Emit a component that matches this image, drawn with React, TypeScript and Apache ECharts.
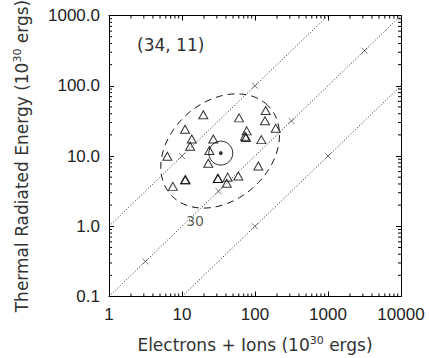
import React, { useEffect, useRef } from 'react';
import * as echarts from 'echarts';

// Axis ranges and tick labels
const xMin = 1;
const xMax = 10000;
const yMin = 0.1;
const yMax = 1000;
const xDecades = [1, 10, 100, 1000];
const yDecades = [0.1, 1, 10, 100];
const minorMultipliers = [2, 3, 4, 5, 6, 7, 8, 9];

// Triangles: flare energies (Electrons + Ions, Thermal Radiated)
const triX = [19.6, 140, 60.4, 137, 11.0, 192, 76.9, 72.9, 75.3, 13.6, 26.8, 122, 12.9, 23.7, 6.3, 22.9, 111, 11.2, 11.0, 30.8, 31.3, 42.3, 59.1, 41.0, 7.5];
const triY = [38.7, 44.4, 34.9, 31.7, 24.0, 24.8, 22.8, 19.1, 18.4, 17.5, 17.5, 17.1, 13.8, 12.0, 9.9, 7.9, 7.2, 4.6, 4.6, 4.8, 4.8, 5.0, 5.2, 4.1, 3.7];

// Mean point
const meanX = 34;
const meanY = 11;

// Reference lines (ratio lines) as endpoints
const lineA = [[1, 1], [1000, 1000]];
const lineB = [[1, 0.1], [10000, 1000]];
const lineC = [[10, 0.1], [10000, 100]];

// Small cross marks on the ratio lines
const crossX = [10, 100, 3.16, 31.6, 316, 3162, 100, 1000];
const crossY = [10, 100, 0.316, 3.16, 31.6, 316, 1, 10];

// Ellipse (in log10 space): center, semi-axes (decades), tilt angle (deg)
const ellCenter = [33.3, 11.8];
const ellSemiMajor = 0.92;
const ellSemiMinor = 0.69;
const ellAngle = 45;

// Annotation
const ellLabel = '30';
const ellLabelPos = [15.1, 1.2];
const meanText = '(34, 11)';

function ellipsePoints(): number[][] {
  const pts: number[][] = [];
  const cx = Math.log10(ellCenter[0]);
  const cy = Math.log10(ellCenter[1]);
  const th = (ellAngle * Math.PI) / 180;
  for (let i = 0; i <= 120; i++) {
    const t = (i / 120) * 2 * Math.PI;
    const u = ellSemiMajor * Math.cos(t);
    const v = ellSemiMinor * Math.sin(t);
    const lx = cx + u * Math.cos(th) - v * Math.sin(th);
    const ly = cy + u * Math.sin(th) + v * Math.cos(th);
    pts.push([Math.pow(10, lx), Math.pow(10, ly)]);
  }
  return pts;
}

const FONT = 'DejaVu Sans';
const TICKFONT = 'Liberation Sans';
const INK = '#222';
const TITLE_INK = '#333';

export default function App() {
  const ref = useRef<HTMLDivElement>(null);
  useEffect(() => {
    if (!ref.current) return;
    const chart = echarts.init(ref.current, undefined, { renderer: 'svg' });

    const xMinor: number[][] = [];
    xDecades.forEach((d) => minorMultipliers.forEach((m) => xMinor.push([d * m, yMin])));
    const yMinor: number[][] = [];
    yDecades.forEach((d) => minorMultipliers.forEach((m) => yMinor.push([xMin, d * m])));

    const baseAxis = {
      axisLine: { show: true, onZero: false, lineStyle: { color: '#000', width: 1 } },
      axisTick: { show: true, inside: true, length: 5, lineStyle: { color: '#000', width: 1 } },
      splitLine: { show: false },
    };

    const richName = {
      a: { fontFamily: FONT, fontSize: 17, color: TITLE_INK },
      s: { fontFamily: FONT, fontSize: 11, color: TITLE_INK, verticalAlign: 'bottom', padding: [0, 0, 9, 0] },
    };

    const tickStyle = { stroke: '#000', lineWidth: 1 };
    const minorLen = 3;

    const option: any = {
      animation: false,
      backgroundColor: '#fff',
      grid: { left: 109, right: 28, top: 14, bottom: 55, containLabel: false },
      xAxis: [
        {
          ...baseAxis,
          type: 'log',
          logBase: 10,
          min: xMin,
          max: xMax,
          position: 'bottom',
          axisLabel: {
            show: true,
            margin: 9,
            fontFamily: TICKFONT,
            fontSize: 17,
            color: INK,
            formatter: (v: number) => String(Math.round(v)),
          },
          name: '{a|Electrons + Ions (10}{s|30}{a| ergs)}',
          nameLocation: 'middle',
          nameGap: 38,
          nameTextStyle: { rich: richName },
        },
        {
          ...baseAxis,
          type: 'log',
          logBase: 10,
          min: xMin,
          max: xMax,
          position: 'top',
          axisLabel: { show: false },
        },
      ],
      yAxis: [
        {
          ...baseAxis,
          type: 'log',
          logBase: 10,
          min: yMin,
          max: yMax,
          position: 'left',
          axisLabel: {
            show: true,
            margin: 9,
            fontFamily: TICKFONT,
            fontSize: 17,
            color: INK,
            formatter: (v: number) => v.toFixed(1),
          },
          name: '{a|Thermal Radiated Energy (10}{s|30}{a| ergs)}',
          nameLocation: 'middle',
          nameGap: 77,
          nameTextStyle: { rich: richName },
        },
        {
          ...baseAxis,
          type: 'log',
          logBase: 10,
          min: yMin,
          max: yMax,
          position: 'right',
          axisLabel: { show: false },
        },
      ],
      series: [
        ...[lineA, lineB, lineC].map((d) => ({
          type: 'line',
          data: d,
          symbol: 'none',
          silent: true,
          lineStyle: { color: '#222', width: 1, type: [1, 2] },
        })),
        {
          type: 'scatter',
          data: crossX.map((x, i) => [x, crossY[i]]),
          symbol: 'path://M0,0L10,10M10,0L0,10',
          symbolSize: 6,
          itemStyle: { color: 'rgba(0,0,0,0)', borderColor: '#333', borderWidth: 0.8 },
        },
        {
          type: 'line',
          data: ellipsePoints(),
          symbol: 'none',
          smooth: false,
          lineStyle: { color: '#111', width: 1, type: [7, 5] },
        },
        {
          type: 'scatter',
          data: triX.map((x, i) => [x, triY[i]]),
          symbol: 'triangle',
          symbolSize: [9, 8],
          itemStyle: { color: 'rgba(0,0,0,0)', borderColor: '#000', borderWidth: 1 },
        },
        {
          type: 'scatter',
          data: [[meanX, meanY]],
          symbol: 'circle',
          symbolSize: 24,
          itemStyle: { color: 'rgba(0,0,0,0)', borderColor: '#000', borderWidth: 1 },
        },
        {
          type: 'scatter',
          data: [[meanX, meanY]],
          symbol: 'circle',
          symbolSize: 4,
          itemStyle: { color: '#000' },
        },
        {
          type: 'scatter',
          data: [ellLabelPos],
          symbolSize: 0,
          label: {
            show: true,
            position: 'inside',
            formatter: ellLabel,
            fontFamily: FONT,
            fontSize: 14,
            color: TITLE_INK,
          },
        },
        {
          type: 'custom',
          data: xMinor,
          silent: true,
          renderItem: (params: any, api: any) => {
            const v = api.value(0);
            const pb = api.coord([v, yMin]);
            const pt = api.coord([v, yMax]);
            return {
              type: 'group',
              children: [
                { type: 'line', shape: { x1: pb[0], y1: pb[1], x2: pb[0], y2: pb[1] - minorLen }, style: tickStyle },
                { type: 'line', shape: { x1: pt[0], y1: pt[1], x2: pt[0], y2: pt[1] + minorLen }, style: tickStyle },
              ],
            };
          },
        },
        {
          type: 'custom',
          data: yMinor,
          silent: true,
          renderItem: (params: any, api: any) => {
            const v = api.value(1);
            const pl = api.coord([xMin, v]);
            const pr = api.coord([xMax, v]);
            return {
              type: 'group',
              children: [
                { type: 'line', shape: { x1: pl[0], y1: pl[1], x2: pl[0] + minorLen, y2: pl[1] }, style: tickStyle },
                { type: 'line', shape: { x1: pr[0], y1: pr[1], x2: pr[0] - minorLen, y2: pr[1] }, style: tickStyle },
              ],
            };
          },
        },
      ],
      graphic: [
        {
          type: 'text',
          left: 137,
          top: 36,
          style: { text: meanText, fontFamily: FONT, fontSize: 17, fill: TITLE_INK },
        },
      ],
    };

    chart.setOption(option);
    return () => chart.dispose();
  }, []);

  return <div ref={ref} style={{ width: 429, height: 358, position: 'absolute', left: 0, top: 0 }} />;
}
